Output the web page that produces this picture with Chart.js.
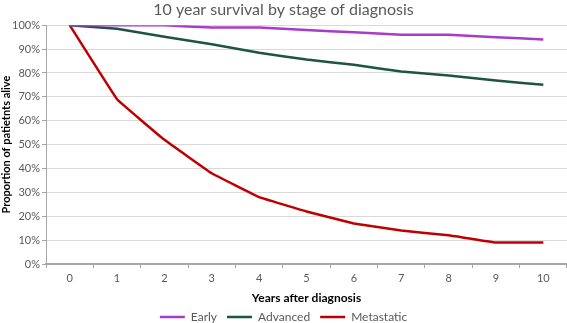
<!DOCTYPE html>
<html>
<head>
<meta charset="utf-8">
<script src="https://cdn.jsdelivr.net/npm/chart.js@4"></script>
<style>
  html, body { margin: 0; padding: 0; background: #fff; }
  #wrap { width: 567px; height: 323px; }
</style>
</head>
<body>
<div id="wrap"><canvas id="grafico"></canvas></div>
<script>
const years = ['0', '1', '2', '3', '4', '5', '6', '7', '8', '9', '10'];
const early = [100, 100, 100, 99, 99, 98, 97, 96, 96, 95, 94];
const advanced = [100, 98.5, 95.2, 92, 88.5, 85.6, 83.4, 80.6, 78.9, 76.8, 75.1];
const metastatic = [100, 69, 52, 38, 28, 22, 17, 14, 12, 9, 9];

const fuente = 'Lato, "Open Sans", sans-serif';

function serie(label, data, color) {
    return {
        label: label,
        data: data,
        borderColor: color,
        backgroundColor: color,
        borderWidth: 2.5,
        pointRadius: 0,
        tension: 0.05,
        fill: false
    };
}

new Chart(document.getElementById('grafico').getContext('2d'), {
    type: 'line',
    data: {
        labels: years,
        datasets: [
            serie('Early', early, '#A93BC9'),
            serie('Advanced', advanced, '#1D5443'),
            serie('Metastatic', metastatic, '#C00000')
        ]
    },
    options: {
        responsive: true,
        maintainAspectRatio: false,
        animation: false,
        layout: { padding: { left: 0, right: 0, top: 0, bottom: -10 } },
        plugins: {
            title: {
                display: true,
                text: '10 year survival by stage of diagnosis',
                color: '#595959',
                font: { family: fuente, size: 16, weight: 'normal' },
                padding: { top: 0, bottom: 6 }
            },
            legend: {
                position: 'bottom',
                labels: {
                    usePointStyle: true,
                    pointStyle: 'line',
                    pointStyleWidth: 25,
                    boxHeight: 10,
                    color: '#595959',
                    font: { family: fuente, size: 12 },
                    padding: 10
                }
            },
            tooltip: { enabled: false }
        },
        scales: {
            x: {
                offset: true,
                grid: {
                    display: true,
                    drawOnChartArea: false,
                    offset: true,
                    tickLength: 4,
                    color: '#A6A6A6'
                },
                border: { color: '#A6A6A6', width: 2 },
                ticks: { color: '#595959', font: { family: fuente, size: 11 }, padding: 4 },
                title: {
                    display: true,
                    text: 'Years after diagnosis',
                    color: '#000',
                    font: { family: fuente, size: 12, weight: 'bold' },
                    padding: { top: 5, bottom: -4 }
                },
                afterFit: scale => { scale.height = 37; }
            },
            y: {
                min: 0,
                max: 100,
                ticks: {
                    stepSize: 10,
                    color: '#595959',
                    font: { family: fuente, size: 11 },
                    padding: 2,
                    callback: v => v + '%'
                },
                grid: { color: '#D9D9D9', tickColor: '#A6A6A6', tickLength: 4 },
                border: { color: '#A6A6A6' },
                title: {
                    display: true,
                    text: 'Proportion of patietnts alive',
                    color: '#000',
                    font: { family: fuente, size: 11, weight: 'bold' },
                    padding: { top: 0, bottom: 0 }
                },
                afterFit: scale => { scale.width = 46; }
            }
        }
    }
});
</script>
</body>
</html>
